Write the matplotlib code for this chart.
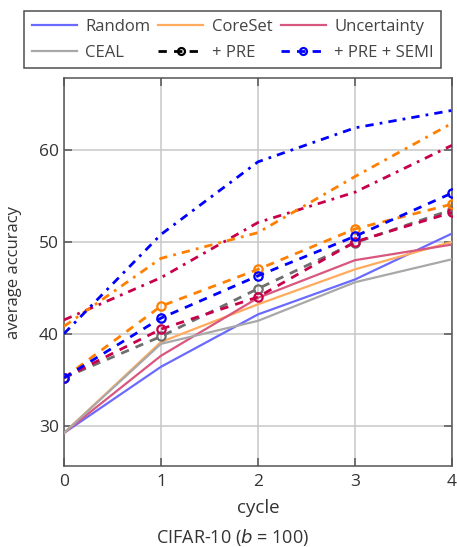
import matplotlib
matplotlib.use("Agg")
import matplotlib.pyplot as plt
from matplotlib.lines import Line2D

plt.rcParams['font.family'] = ['Open Sans', 'DejaVu Sans']

cycles = [0, 1, 2, 3, 4]

# baselines (solid)
random_acc = [29.2, 36.4, 42.1, 45.9, 50.9]
coreset_acc = [29.2, 39.1, 43.2, 47.0, 50.0]
uncert_acc = [29.2, 37.6, 43.9, 48.0, 49.7]
ceal_acc = [29.2, 38.9, 41.4, 45.6, 48.1]

# + PRE (dashed, markers)
random_pre = [35.2, 41.7, 46.3, 50.6, 55.3]
coreset_pre = [35.2, 43.0, 47.0, 51.4, 54.1]
uncert_pre = [35.2, 40.5, 44.0, 50.0, 53.2]
ceal_pre = [35.2, 39.7, 44.9, 49.9, 53.5]

# + PRE + SEMI (dash-dot)
random_semi = [40.0, 50.8, 58.7, 62.4, 64.3]
coreset_semi = [40.8, 48.2, 51.0, 57.1, 62.9]
uncert_semi = [41.5, 46.1, 52.1, 55.4, 60.5]

legend_labels = ['Random', 'CoreSet', 'Uncertainty', 'CEAL', '+ PRE', '+ PRE + SEMI']

c_rand, c_core, c_unc, c_ceal = '#6a6aff', '#ffab5e', '#d9577f', '#a8a8a8'
d_rand, d_core, d_unc, d_ceal = '#0000ff', '#ff8000', '#c8004b', '#6e6e6e'

fig = plt.figure(figsize=(4.57, 5.47), dpi=100)
ax = fig.add_axes([0.140, 0.148, 0.849, 0.709])

# solid baselines
ax.plot(cycles, random_acc, color=c_rand, lw=1.6, zorder=3)
ax.plot(cycles, coreset_acc, color=c_core, lw=1.6, zorder=3)
ax.plot(cycles, uncert_acc, color=c_unc, lw=1.6, zorder=3)
ax.plot(cycles, ceal_acc, color=c_ceal, lw=1.6, zorder=3)

# dashed + PRE
dash = (0, (3, 2.6))
mk = dict(marker='o', ms=6, mfc='none', mew=1.6)
ax.plot(cycles, ceal_pre, color=d_ceal, lw=2, ls=dash, zorder=4, **mk)
ax.plot(cycles, uncert_pre, color=d_unc, lw=2, ls=dash, zorder=4, **mk)
ax.plot(cycles, coreset_pre, color=d_core, lw=2, ls=dash, zorder=4, **mk)
ax.plot(cycles, random_pre, color=d_rand, lw=2, ls=dash, zorder=4, **mk)

# dash-dot + SEMI
dashdot = (0, (3, 2.2, 1, 2.2))
ax.plot(cycles, uncert_semi, color=d_unc, lw=2, ls=dashdot, zorder=4)
ax.plot(cycles, coreset_semi, color=d_core, lw=2, ls=dashdot, zorder=4)
ax.plot(cycles, random_semi, color=d_rand, lw=2, ls=dashdot, zorder=4)

ax.set_xlim(0, 4)
ax.set_ylim(25.6, 67.8)
ax.set_xticks(cycles)
ax.set_yticks([30, 40, 50, 60])
ax.grid(True, color='#c8c8c8', lw=1.1, zorder=0)
ax.set_axisbelow(True)
ax.tick_params(direction='in', top=True, right=True, length=6, width=1.1,
               color='#555555', labelsize=12.5, labelcolor='#333333')
ax.tick_params(axis='x', pad=6)
for s in ax.spines.values():
    s.set_color('#555555')
    s.set_linewidth(1.1)

ax.set_xlabel('cycle', fontsize=13.5, color='#333333', labelpad=6)
ax.set_ylabel('average accuracy', fontsize=12, color='#333333', labelpad=12)
fig.text(0.508, 0.008, 'CIFAR-10 ($b$ = 100)', ha='center', fontsize=13,
         color='#333333')

handles = [
    Line2D([], [], color=c_rand, lw=1.6),
    Line2D([], [], color=c_core, lw=1.6),
    Line2D([], [], color=c_unc, lw=1.6),
    Line2D([], [], color=c_ceal, lw=1.6),
    Line2D([], [], color='black', lw=2, ls=dash, marker='o', ms=5, mfc='none', mew=1.6),
    Line2D([], [], color='#0000ff', lw=2, ls=dash, marker='o', ms=5, mfc='none', mew=1.6),
]
# legend fills column by column, so reorder to get row-wise layout
order = [0, 3, 1, 4, 2, 5]
leg = fig.legend([handles[i] for i in order], [legend_labels[i] for i in order],
                 ncol=3, loc='upper center',
                 bbox_to_anchor=(0.509, 0.995), fontsize=12, frameon=True,
                 fancybox=False, edgecolor='#222222', handlelength=2.7,
                 handletextpad=0.5, columnspacing=0.5, borderpad=0.45,
                 labelspacing=0.6, numpoints=1)
leg.get_frame().set_linewidth(1.1)
for t in leg.get_texts():
    t.set_color('#444444')

fig.savefig('out.png', dpi=100)
